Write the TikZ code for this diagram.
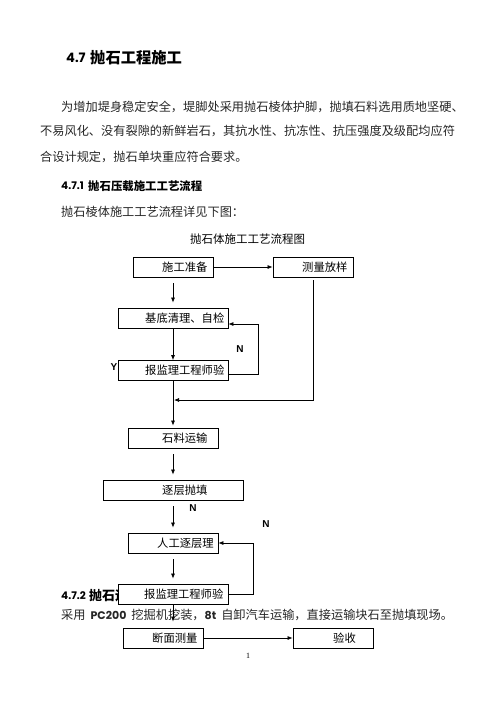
\documentclass[tikz,border=0pt]{standalone}
\usepackage{fontspec}
\setmainfont{Liberation Serif}
\newfontfamily\cjk{Noto Sans CJK SC}
\newfontfamily\pop{Poppins}
\newfontfamily\arial{Liberation Sans}
\usetikzlibrary{arrows.meta, positioning}

\tikzset{
  box/.style={draw, line width=0.8pt, fill=white, inner sep=0pt, minimum height=20pt},
  lbl/.style={right, inner sep=0pt, font=\cjk\fontsize{11.3}{12}\selectfont},
  body/.style={right, inner sep=0pt, text=black!85, font=\cjk\fontsize{12.2}{14}\selectfont},
  yn/.style={inner sep=0pt, font=\arial\bfseries\fontsize{10}{10}\selectfont},
  flow/.style={line width=0.7pt, -{Latex[length=5pt, width=4pt]}},
  gap/.style={flow, shorten <=6pt, shorten >=5pt},
}

\begin{document}
\begin{tikzpicture}[x=1pt, y=-1pt]
    \fill[white] (0,0) rectangle (496,702);
    \useasboundingbox (0,0) rectangle (496,702);

    % Headings and text of the page
    \node[right, inner sep=0pt, font=\pop\bfseries\fontsize{13}{14}\selectfont] (secnum) at (66,58) {4.7};
    \node[right, inner sep=0pt, font=\cjk\bfseries\fontsize{15.3}{16}\selectfont] (sectitle) at (90,58) {抛石工程施工};
    \node[body] (line1) at (61,107) {为增加堤身稳定安全，堤脚处采用抛石棱体护脚，抛填石料选用质地坚硬、};
    \node[body] (line2) at (40,131) {不易风化、没有裂隙的新鲜岩石，其抗水性、抗冻性、抗压强度及级配均应符};
    \node[body] (line3) at (40,157) {合设计规定，抛石单块重应符合要求。};
    \node[right, inner sep=0pt, font=\pop\bfseries\fontsize{10.5}{12}\selectfont] (subnum1) at (61,186) {4.7.1};
    \node[right, inner sep=0pt, font=\cjk\bfseries\fontsize{11.4}{12}\selectfont] (subtitle1) at (88,186) {抛石压载施工工艺流程};
    \node[body] (line4) at (61,212) {抛石棱体施工工艺流程详见下图：};
    \node[right, inner sep=0pt, font=\pop\bfseries\fontsize{10.5}{12}\selectfont] (subnum2) at (61,596) {4.7.2};
    \node[right, inner sep=0pt, font=\cjk\bfseries\fontsize{13}{14}\selectfont] (subtitle2) at (89,596) {抛石运输};
    \node[body] (line5) at (61,615) {采用\hspace{5pt}{\pop\bfseries\fontsize{11}{12}\selectfont PC200}\hspace{5pt}挖掘机挖装，{\pop\bfseries\fontsize{11}{12}\selectfont 8t}\hspace{5pt}自卸汽车运输，直接运输块石至抛填现场。};
    \node[inner sep=0pt, font=\fontsize{8}{9}\selectfont] (pagenum) at (248,656) {1};

    % Chart title
    \node[inner sep=0pt, font=\cjk\fontsize{11.5}{12}\selectfont] (charttitle) at (247.5,239) {抛石体施工工艺流程图};

    % Boxes
    \node[box, minimum width=80pt] (prep) at (173,267) {};
    \node[box, minimum width=80pt] (survey) at (313,267) {};
    \node[box, minimum width=110pt] (clean) at (173,318) {};
    \node[box, minimum width=110pt] (check1) at (173,370.5) {};
    \node[box, minimum width=90pt] (haul) at (173,438) {};
    \node[box, minimum width=140pt] (fill) at (173,490) {};
    \node[box, minimum width=90pt] (trim) at (173,543) {};
    \node[box, minimum width=110pt] (check2) at (173,594) {};
    \node[box, minimum width=80pt] (section) at (163,638) {};
    \node[box, minimum width=80pt] (accept) at (333,638) {};

    % Box texts
    \node[lbl] (prepT) at (162,267) {施工准备};
    \node[lbl] (surveyT) at (302,267) {测量放样};
    \node[lbl] (cleanT) at (145,318) {基底清理、自检};
    \node[lbl] (check1T) at (145,370.5) {报监理工程师验};
    \node[lbl] (haulT) at (162,438) {石料运输};
    \node[lbl] (fillT) at (162,490) {逐层抛填};
    \node[lbl] (trimT) at (157,543) {人工逐层理};
    \node[lbl] (check2T) at (144,594) {报监理工程师验};
    \node[lbl] (sectionT) at (152,638) {断面测量};
    \node[lbl] (acceptT) at (333,638) {验收};

    % Y / N marks
    \node[yn] (yes1) at (114,367) {Y};
    \node[yn] (no1) at (240,349) {N};
    \node[yn] (no2) at (193,508) {N};
    \node[yn] (no3) at (266,524) {N};

    % Connectors
    \coordinate (merge) at (174,400);
    \draw[flow] (prep.east) -- (survey.west);
    \draw[gap] (prep.south) -- (clean.north);
    \draw[flow] (clean.south) -- (check1.north);
    \draw[flow] ([yshift=-4pt]check1.east) -- ++(30,0) |- ([yshift=-6pt]clean.east);
    \draw[flow] ([yshift=-3pt]survey.south) |- (merge);
    \draw[flow, shorten >=2pt] (check1.south) -- (haul.north);
    \draw[gap] (haul.south) -- (fill.north);
    \draw[gap] (fill.south) -- (trim.north);
    \draw[gap] (trim.south) -- (check2.north);
    \draw[flow] (check2.east) -- ++(25,0) |- (trim.east);
    \draw[flow, shorten >=6pt] (check2.south) -- (check2.south |- section.north);
    \draw[flow] (section.east) -- (accept.west);
\end{tikzpicture}
\end{document}
